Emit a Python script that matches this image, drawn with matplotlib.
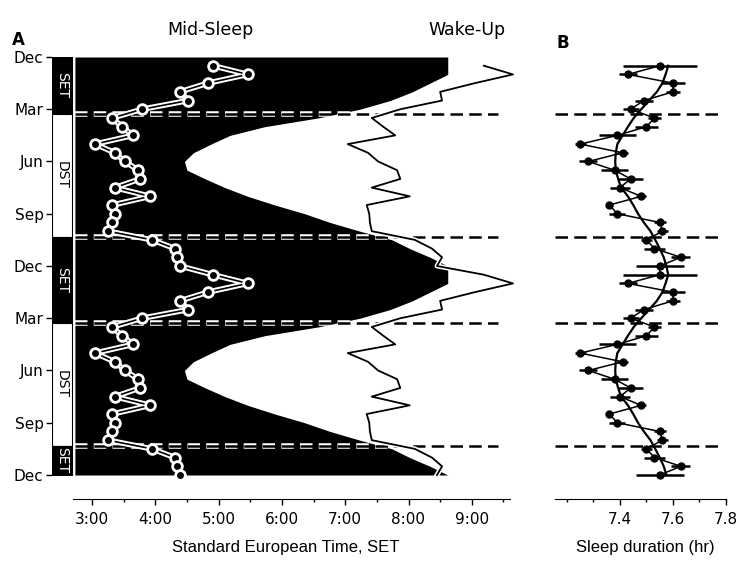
import numpy as np
import matplotlib
matplotlib.use("Agg")
import matplotlib.pyplot as plt
import matplotlib.patheffects as pe

# half-month bins from Dec (0) to Dec (12), double plotted over two years
months = np.arange(0.5, 12.01, 0.5)
month_ticks = [0, 3, 6, 9, 12, 15, 18, 21, 24]
month_labels = ["Dec", "Mar", "Jun", "Sep", "Dec", "Mar", "Jun", "Sep", "Dec"]

# panel A, hours in SET
mid_sleep = [4.91, 5.46, 4.83, 4.39, 4.52, 3.79, 3.32, 3.47, 3.65, 3.05, 3.36, 3.52,
             3.73, 3.76, 3.36, 3.92, 3.32, 3.36, 3.32, 3.25, 3.95, 4.31, 4.34, 4.39]
wake_up = [9.19, 9.65, 9.05, 8.50, 8.53, 7.87, 7.42, 7.60, 7.79, 7.04, 7.36, 7.52,
           7.82, 7.87, 7.42, 8.02, 7.34, 7.38, 7.39, 7.42, 8.10, 8.37, 8.53, 8.45]
dark_end = [8.62, 8.62, 8.34, 8.06, 7.71, 7.23, 6.57, 5.73, 5.18, 4.88, 4.60, 4.46,
            4.50, 4.79, 5.10, 5.46, 5.89, 6.36, 6.76, 7.23, 7.74, 8.02, 8.34, 8.62]

# DST switch dates (in months after Dec 1)
dst_start = 3.25
dst_end = 10.32

# panel B, hours
sleep_dur = [7.55, 7.43, 7.60, 7.60, 7.49, 7.44, 7.53, 7.50, 7.39, 7.25, 7.41, 7.28,
             7.38, 7.44, 7.40, 7.48, 7.36, 7.39, 7.55, 7.56, 7.50, 7.53, 7.63, 7.55]
sleep_err = [0.14, 0.035, 0.045, 0.025, 0.035, 0.03, 0.025, 0.045, 0.07, 0.02, 0.02, 0.035,
             0.05, 0.048, 0.036, 0.02, 0.012, 0.03, 0.022, 0.022, 0.022, 0.04, 0.036, 0.09]
sleep_fit = [7.582, 7.572, 7.560, 7.539, 7.510, 7.480, 7.452, 7.430, 7.410, 7.390, 7.384, 7.382,
             7.384, 7.393, 7.404, 7.430, 7.450, 7.468, 7.490, 7.515, 7.533, 7.550, 7.565, 7.575]

y2 = np.concatenate([months, months + 12])
def twice(v):
    return np.concatenate([v, v])

W, H = 740, 566
fig = plt.figure(figsize=(W / 100, H / 100), dpi=100)

# ---------- panel A ----------
px_h = 63.3  # pixels per hour
a_left, a_right = 52, 520
axA = fig.add_axes([a_left / W, 1 - 475 / H, (a_right - a_left) / W, 418 / H])
axA.set_xlim(3 + (a_left - 92) / px_h, 3 + (a_right - 92) / px_h)
axA.set_ylim(24, 0)

bar_l, bar_r = axA.get_xlim()[0], 2.68
dark_left = 2.73

# dark region
yf = np.concatenate([[0], y2])
xf = np.concatenate([[dark_end[-1]], twice(dark_end)])
axA.fill_betweenx(yf, dark_left, xf, color="black", lw=0, zorder=1)

# SET / DST bar
edges = [0, dst_start, dst_end, dst_start + 12, dst_end + 12, 24]
for i in range(len(edges) - 1):
    y0, y1 = edges[i], edges[i + 1]
    is_set = i % 2 == 0
    axA.fill_betweenx([y0, y1], bar_l, bar_r, color="black" if is_set else "white",
                      edgecolor="black", lw=0.8, zorder=2)
    if y1 - y0 > 1.2:
        axA.text((bar_l + bar_r) / 2, (y0 + y1) / 2, "SET" if is_set else "DST",
                 rotation=270, ha="center", va="center", fontsize=10,
                 color="white" if is_set else "black", zorder=3)

# DST switch lines
for yy in [dst_start, dst_end, dst_start + 12, dst_end + 12]:
    axA.plot([dark_left, 9.41], [yy, yy], color="black", lw=1.8, dashes=(5, 2.5),
             path_effects=[pe.Stroke(linewidth=4, foreground="white"), pe.Normal()],
             zorder=3)

# wake-up
axA.plot(twice(wake_up), y2, color="white", lw=3.5, zorder=4, clip_on=False)
axA.plot(twice(wake_up), y2, color="black", lw=1.3, zorder=4.5, clip_on=False)

# mid-sleep
axA.plot(twice(mid_sleep), y2, color="white", lw=4.0, zorder=5, clip_on=False)
axA.plot(twice(mid_sleep), y2, color="black", lw=1.2, marker="o", ms=7,
         mfc="black", mec="white", mew=2.0, zorder=6, clip_on=False)

axA.set_yticks(month_ticks)
axA.set_yticklabels(month_labels)
axA.set_xticks(range(3, 10))
axA.set_xticklabels([f"{h}:00" for h in range(3, 10)])
axA.set_xticks(np.arange(3.5, 9.6, 1.0), minor=True)
for s in ["top", "right", "left"]:
    axA.spines[s].set_visible(False)
axA.spines["bottom"].set_position(("outward", 17))
axA.spines["bottom"].set_bounds(2.7, 9.6)
axA.tick_params(axis="y", length=4, width=1, pad=2, labelsize=11)
axA.tick_params(axis="x", which="major", length=4, width=1, pad=6, labelsize=11)
axA.tick_params(axis="x", which="minor", length=2.5, width=1)
axA.set_xlabel("Standard European Time, SET", fontsize=12, family="Liberation Sans",
               labelpad=9)

# ---------- panel B ----------
b_left, b_right = 550, 740
axB = fig.add_axes([b_left / W, 1 - 475 / H, (b_right - b_left) / W, 418 / H])
# 7.4 at x=620 px, 7.8 at x=726 px
px_b = (726 - 620) / 0.4
axB.set_xlim(7.4 + (b_left - 620) / px_b, 7.4 + (b_right - 620) / px_b)
axB.set_ylim(24, 0)

x_lo = 7.4 + (555 - 620) / px_b
for yy in [dst_start, dst_end, dst_start + 12, dst_end + 12]:
    axB.plot([x_lo, 7.4 + (722 - 620) / px_b], [yy, yy], color="black", lw=1.8,
             dashes=(5, 2.5), zorder=1)

axB.plot(twice(sleep_fit), y2, color="black", lw=1.6, zorder=3, clip_on=False)
axB.errorbar(twice(sleep_dur), y2, xerr=twice(sleep_err), fmt="o-", color="black",
             ms=5, lw=1.1, elinewidth=1.8, capsize=0, zorder=4, clip_on=False)

axB.set_yticks([])
axB.set_xticks([7.4, 7.6, 7.8])
axB.set_xticks([7.2, 7.3, 7.5, 7.7], minor=True)
for s in ["top", "right", "left"]:
    axB.spines[s].set_visible(False)
axB.spines["bottom"].set_position(("outward", 17))
axB.spines["bottom"].set_bounds(x_lo, 7.8)
axB.tick_params(axis="x", which="major", length=4, width=1, pad=6, labelsize=11)
axB.tick_params(axis="x", which="minor", length=2.5, width=1)
axB.set_xlabel("Sleep duration (hr)", fontsize=12, family="Liberation Sans", labelpad=9)

# labels
fig.text(12 / W, 1 - 45 / H, "A", fontsize=12, fontweight="bold", va="baseline")
fig.text(557 / W, 1 - 48 / H, "B", fontsize=12, fontweight="bold", va="baseline")
fig.text(210 / W, 1 - 30 / H, "Mid-Sleep", fontsize=12.5, ha="center", va="center")
fig.text(467 / W, 1 - 30 / H, "Wake-Up", fontsize=12.5, ha="center", va="center")

fig.savefig("out.png", dpi=100)
